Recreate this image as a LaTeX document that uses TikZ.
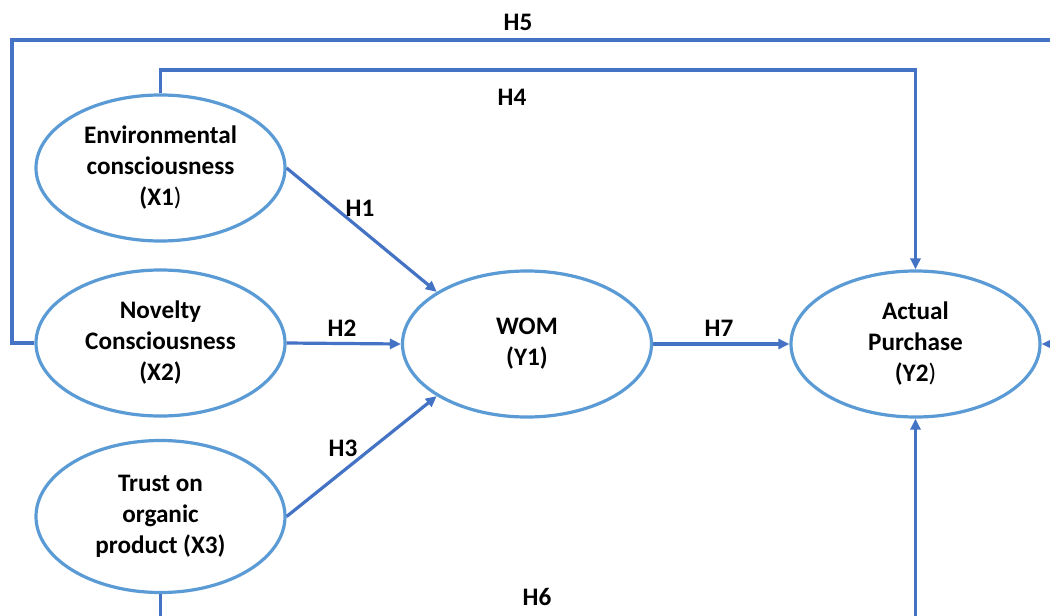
\documentclass[tikz,border=0pt]{standalone}
\usepackage{fontspec}
\setmainfont{Carlito}
\usetikzlibrary{shapes.geometric,arrows.meta}
\begin{document}
\begin{tikzpicture}[x=1pt,y=-1pt,
  every node/.style={font=\fontsize{25.2}{31}\selectfont\bfseries},
  construct/.style={ellipse,draw=ellblue,line width=3.2pt,minimum width=249pt,minimum height=146pt,inner sep=0pt,align=center,fill=white},
  conn/.style={draw=lineblue,line width=3.2pt,-{Triangle[length=11pt,width=10pt]}},
  hlabel/.style={inner sep=0pt,text=black}]
\definecolor{ellblue}{HTML}{5B9BD5}
\definecolor{lineblue}{HTML}{4472C4}
\clip (0,0) rectangle (1050,616);
\fill[white] (0,0) rectangle (1050,616);

\node[construct] (X1) at (160.5,168) {Environmental\\consciousness\\(X1\textmd{)}};
\node[construct] (X2) at (160.5,343) {Novelty\\Consciousness\\(X2)};
\node[construct,minimum height=152pt] (X3) at (160.5,516.5) {Trust on\\organic\\product (X3)};
\node[construct] (WOM) at (527,344) {WOM\\(Y1)};
\node[construct] (Y2) at (915.5,344) {Actual\\Purchase\\(Y2\textmd{)}};

\coordinate (c5l) at (12,40);
\coordinate (c5r) at (1075,40);
\coordinate (c4) at (540,70);
\coordinate (c6) at (540,645);

\draw[conn] (X1.east) -- (WOM.150);
\draw[conn] (X2.east) -- (WOM.west);
\draw[conn] (X3.east) -- (WOM.210);
\draw[conn] (WOM.east) -- (Y2.west);
\draw[conn] (X1.north) |- (c4) -| (Y2.north);
\draw[conn] (X2.west) -| (c5l) -- (c5r) |- (Y2.east);
\draw[conn] (X3.south) |- (c6) -| (Y2.south);

\node[hlabel] (H1) at (360,208) {H1};
\node[hlabel] (H2) at (342,328) {H2};
\node[hlabel] (H3) at (343,448) {H3};
\node[hlabel] (H4) at (512,97) {H4};
\node[hlabel] (H5) at (518,22) {H5};
\node[hlabel] (H6) at (537,597) {H6};
\node[hlabel] (H7) at (719,328) {H7};
\end{tikzpicture}
\end{document}
